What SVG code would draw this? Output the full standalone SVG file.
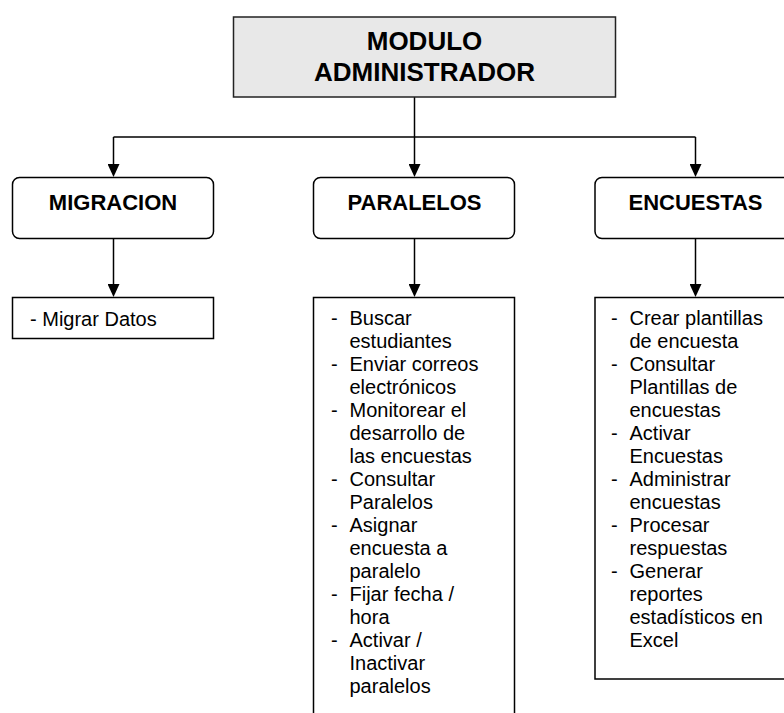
<svg xmlns="http://www.w3.org/2000/svg" width="784" height="713" viewBox="0 0 784 713">
<style>
  .box{fill:#ffffff;stroke:#000000;stroke-width:1.5}
  .top{fill:#e8e8e8;stroke:#222222;stroke-width:1.5}
  .conn{fill:none;stroke:#000000;stroke-width:1.5}
  .title{font-family:"Liberation Sans",Arial,sans-serif;font-weight:bold;font-size:26px;text-anchor:middle;fill:#000}
  .head{font-family:"Liberation Sans",Arial,sans-serif;font-weight:bold;font-size:22px;text-anchor:middle;fill:#000}
  .item{font-family:"Liberation Sans",Arial,sans-serif;font-size:20px;fill:#000}
</style>
<defs>
  <marker id="arrow" markerUnits="userSpaceOnUse" markerWidth="13" markerHeight="12" refX="0" refY="6" orient="auto">
    <path d="M0,0 L13,6 L0,12 Z" fill="#000000"/>
  </marker>
</defs>
<rect width="784" height="713" fill="#ffffff"/>

<g id="connectors">
  <path class="conn" d="M414.5,97 V164" marker-end="url(#arrow)"/>
  <path class="conn" d="M113.5,137 H695.5"/>
  <path class="conn" d="M113.5,137 V164" marker-end="url(#arrow)"/>
  <path class="conn" d="M695.5,137 V164" marker-end="url(#arrow)"/>
  <path class="conn" d="M113.5,238.5 V284" marker-end="url(#arrow)"/>
  <path class="conn" d="M414.5,238.5 V284" marker-end="url(#arrow)"/>
  <path class="conn" d="M695.5,238.5 V284" marker-end="url(#arrow)"/>
</g>

<g id="modulo-administrador">
  <rect class="top" x="233.5" y="17" width="382" height="80"/>
  <text class="title" x="424.5" y="50">MODULO</text>
  <text class="title" x="424.5" y="81">ADMINISTRADOR</text>
</g>

<g id="migracion">
  <rect class="box" x="12.5" y="177.5" width="201" height="61" rx="7" ry="7"/>
  <text class="head" x="113" y="209.5">MIGRACION</text>
</g>

<g id="paralelos">
  <rect class="box" x="313.5" y="177.5" width="201" height="61" rx="7" ry="7"/>
  <text class="head" x="414.5" y="209.5">PARALELOS</text>
</g>

<g id="encuestas">
  <rect class="box" x="595" y="177.5" width="201" height="61" rx="7" ry="7"/>
  <text class="head" x="695.5" y="209.5">ENCUESTAS</text>
</g>

<g id="migracion-list">
  <rect class="box" x="12.5" y="297.5" width="201" height="41"/>
  <text class="item" x="30" y="325.5">- Migrar Datos</text>
</g>

<g id="paralelos-list">
  <rect class="box" x="313.5" y="297.5" width="201" height="440"/>
  <g class="item">
    <text x="331" y="325">-</text><text x="349.5" y="325">Buscar</text>
    <text x="349.5" y="348">estudiantes</text>
    <text x="331" y="371">-</text><text x="349.5" y="371">Enviar correos</text>
    <text x="349.5" y="394">electrónicos</text>
    <text x="331" y="417">-</text><text x="349.5" y="417">Monitorear el</text>
    <text x="349.5" y="440">desarrollo de</text>
    <text x="349.5" y="463">las encuestas</text>
    <text x="331" y="486">-</text><text x="349.5" y="486">Consultar</text>
    <text x="349.5" y="509">Paralelos</text>
    <text x="331" y="532">-</text><text x="349.5" y="532">Asignar</text>
    <text x="349.5" y="555">encuesta a</text>
    <text x="349.5" y="578">paralelo</text>
    <text x="331" y="601">-</text><text x="349.5" y="601">Fijar fecha /</text>
    <text x="349.5" y="624">hora</text>
    <text x="331" y="647">-</text><text x="349.5" y="647">Activar /</text>
    <text x="349.5" y="670">Inactivar</text>
    <text x="349.5" y="693">paralelos</text>
  </g>
</g>

<g id="encuestas-list">
  <rect class="box" x="595" y="297.5" width="201" height="381.5"/>
  <g class="item">
    <text x="611" y="325">-</text><text x="629.5" y="325">Crear plantillas</text>
    <text x="629.5" y="348">de encuesta</text>
    <text x="611" y="371">-</text><text x="629.5" y="371">Consultar</text>
    <text x="629.5" y="394">Plantillas de</text>
    <text x="629.5" y="417">encuestas</text>
    <text x="611" y="440">-</text><text x="629.5" y="440">Activar</text>
    <text x="629.5" y="463">Encuestas</text>
    <text x="611" y="486">-</text><text x="629.5" y="486">Administrar</text>
    <text x="629.5" y="509">encuestas</text>
    <text x="611" y="532">-</text><text x="629.5" y="532">Procesar</text>
    <text x="629.5" y="555">respuestas</text>
    <text x="611" y="578">-</text><text x="629.5" y="578">Generar</text>
    <text x="629.5" y="601">reportes</text>
    <text x="629.5" y="624">estadísticos en</text>
    <text x="629.5" y="647">Excel</text>
  </g>
</g>
</svg>
